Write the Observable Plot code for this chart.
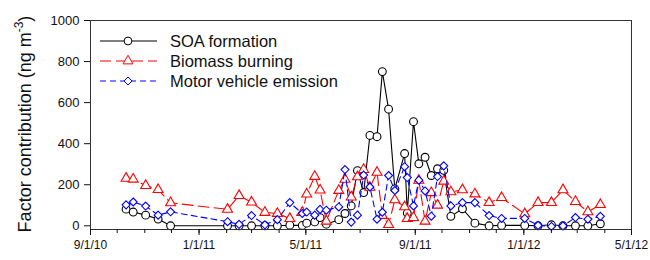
<!DOCTYPE html>
<html><head><meta charset="utf-8">
<script src="https://cdn.jsdelivr.net/npm/d3@7"></script>
<script src="https://cdn.jsdelivr.net/npm/@observablehq/plot@0.6"></script>
<style>body{margin:0;background:#fff} #chart{width:650px;height:260px}</style>
</head><body><div id="chart"></div>
<script>
const dates = ["2010-10-11","2010-10-19","2010-11-02","2010-11-16","2010-11-30",
  "2011-02-02","2011-02-15","2011-03-01","2011-03-16","2011-03-30",
  "2011-04-13","2011-04-27","2011-05-02","2011-05-11","2011-05-17",
  "2011-05-24","2011-06-07","2011-06-14","2011-06-21","2011-06-28",
  "2011-07-05","2011-07-12","2011-07-20","2011-07-26","2011-08-02",
  "2011-08-09","2011-08-20","2011-08-23","2011-08-30","2011-09-05",
  "2011-09-12","2011-09-19","2011-09-26","2011-10-03","2011-10-11",
  "2011-10-24","2011-11-07","2011-11-23","2011-12-07","2012-01-02",
  "2012-01-17","2012-02-01","2012-02-14","2012-02-28","2012-03-13",
  "2012-03-27"];
const soa = [81,67,52,33,0, 0,0,0,0,0, 3,2,13,19,40, 8,30,60,97,269,
  162,440,434,751,568, 180,352,62,507,302, 334,245,278,270,46, 83,13,0,2,2, 0,5,0,0,0, 10];
const biomass = [231,227,196,176,112, 80,147,115,65,60, 35,65,154,240,174, 22,172,226,140,238,
  274,187,260,50,6, 126,92,35,40,221, 22,161,100,217,165, 175,155,113,137,58, 113,113,175,118,68, 103];
const vehicle = [102,116,96,52,68, 20,7,50,5,30, 113,60,67,52,80, 76,92,274,18,52,
  247,189,32,66,245, 172,288,235,97,222, 170,47,240,292,97, 113,113,50,36,36, 2,-3,0,40,32, 46];
const seriesNames = ["SOA formation","Biomass burning","Motor vehicle emission"];
const yTicks = [0,200,400,600,800,1000];
const xTickLabels = ["9/1/10","1/1/11","5/1/11","9/1/11","1/1/12","5/1/12"];
const yLabelMain = "Factor contribution (ng m";
const yLabelSup = "-3";
const yLabelEnd = ")";

const parseISO = d3.utcParse("%Y-%m-%d");
const parseTick = d3.utcParse("%m/%d/%y");
const majorTicks = xTickLabels.map(parseTick);
const xDomain = [majorTicks[0], majorTicks[majorTicks.length-1]];
const minorTicks = d3.utcMonth.range(xDomain[0], d3.utcDay.offset(xDomain[1], 1));

const styles = [
  {symbol:"circle", d3sym:d3.symbolCircle, color:"#000000", dash:null, r:3.9},
  {symbol:"triangle", d3sym:d3.symbolTriangle, color:"#ff0000", dash:"11,5", r:3.7},
  {symbol:"diamond2", d3sym:d3.symbolDiamond2, color:"#0000ff", dash:"6,4", r:3.6}
];
const allValues = [soa, biomass, vehicle];
const seriesRows = allValues.map((vals, s) => vals.map((v, i) => ({series: seriesNames[s], date: parseISO(dates[i]), value: v})));

const font = "'Liberation Sans', Arial, Helvetica, sans-serif";
const marks = [];
seriesRows.forEach((rows, s) => {
  const st = styles[s];
  marks.push(Plot.line(rows, {x:"date", y:"value", stroke: st.color, strokeWidth: 1.1, strokeDasharray: st.dash ?? undefined}));
  marks.push(Plot.dot(rows, {x:"date", y:"value", symbol: st.symbol, r: st.r, stroke: st.color, fill: "white", strokeWidth: 1.1}));
});
marks.push(Plot.frame({stroke:"#333", strokeWidth:1}));
marks.push(Plot.axisY({ticks: yTicks, tickSize: 6, tickPadding: 5, fontSize: 13, label: null, tickFormat: d3.format("d")}));
marks.push(Plot.axisX({ticks: minorTicks, tickSize: 4, text: null, label: null}));
marks.push(Plot.axisX({ticks: majorTicks, tickSize: 6, tickPadding: 5, fontSize: 12, label: null, tickFormat: d3.utcFormat("%-m/%-d/%y")}));

const svg = Plot.plot({
  width: 650, height: 260,
  marginTop: 20, marginRight: 19, marginBottom: 31, marginLeft: 90,
  style: {fontFamily: font, fontSize: "13px", background: "white", color: "#111"},
  x: {type: "utc", domain: xDomain, label: null},
  y: {domain: [-18, 1000], label: null},
  marks
});
document.getElementById("chart").appendChild(svg);

// y-axis title with superscript
const sel = d3.select(svg);
const yt = sel.append("text")
  .attr("transform", "translate(31,124) rotate(-90)")
  .attr("text-anchor", "middle")
  .attr("font-family", font).attr("font-size", 18).attr("fill", "#111");
yt.append("tspan").text(yLabelMain);
yt.append("tspan").attr("dy", -8).attr("font-size", 12).text(yLabelSup);
yt.append("tspan").attr("dy", 8).text(yLabelEnd);

// legend inside plot
const lg = sel.append("g").attr("font-family", font).attr("font-size", 16.5).attr("text-anchor", "start");
seriesNames.forEach((name, i) => {
  const st = styles[i];
  const y = 41 + 20 * i;
  lg.append("line").attr("x1", 100).attr("x2", 157).attr("y1", y).attr("y2", y)
    .attr("stroke", st.color).attr("stroke-width", 1.1).attr("stroke-dasharray", st.dash);
  lg.append("path").attr("d", d3.symbol(st.d3sym, Math.PI * st.r * st.r)())
    .attr("transform", `translate(128,${y})`).attr("fill", "white").attr("stroke", st.color);
  lg.append("text").attr("x", 170).attr("y", y).attr("dy", "0.35em").attr("text-anchor", "start").attr("fill", "#111").text(name);
});
</script>
</body></html>
